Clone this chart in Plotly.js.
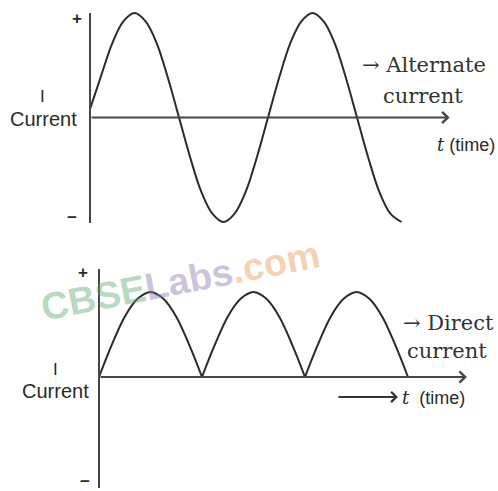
<!DOCTYPE html>
<html>
<head>
<meta charset="utf-8">
<script src="https://cdn.plot.ly/plotly-3.0.1.min.js"></script>
<style>html,body{margin:0;padding:0;background:#fff;}#chart{width:498px;height:491px;}</style>
</head>
<body>
<div id="chart"></div>
<script>
// ---- Data (time in periods, current as fraction of peak) ----
const acTime = [0, 0.0625, 0.125, 0.1875, 0.25, 0.3125, 0.375, 0.4375, 0.5,
  0.5625, 0.625, 0.6875, 0.75, 0.8125, 0.875, 0.9375, 1.0,
  1.0625, 1.125, 1.1875, 1.25, 1.3125, 1.375, 1.4375, 1.5,
  1.5625, 1.625, 1.6875, 1.75];
const acCurrent = [0.08, 0.4, 0.71, 0.92, 1, 0.92, 0.71, 0.38, 0,
  -0.38, -0.71, -0.92, -1, -0.92, -0.71, -0.38, 0,
  0.38, 0.71, 0.92, 1, 0.92, 0.71, 0.38, 0,
  -0.38, -0.71, -0.92, -1];

const dcTime = [0, 0.0625, 0.125, 0.1875, 0.25, 0.3125, 0.375, 0.4375, 0.5, null,
  0.5, 0.5625, 0.625, 0.6875, 0.75, 0.8125, 0.875, 0.9375, 1.0, null,
  1.0, 1.0625, 1.125, 1.1875, 1.25, 1.3125, 1.375, 1.4375, 1.5];
const dcCurrent = [0, 0.38, 0.71, 0.92, 1, 0.92, 0.71, 0.38, 0, null,
  0, 0.38, 0.71, 0.92, 1, 0.92, 0.71, 0.38, 0, null,
  0, 0.38, 0.71, 0.92, 1, 0.92, 0.71, 0.38, 0];

const labels = {
  plus: '+', minus: '\u2212', symbol: 'I', quantity: 'Current',
  ac1: '\u2192 Alternate', ac2: 'current',
  dc1: '\u2192 Direct', dc2: 'current',
  time: 'time', watermark: ['CBSE', 'Labs', '.com']
};

// ---- Styling ----
const W = 498, H = 491;
const curveColor = '#2b2b2b';
const axisColor = '#474747';
const sans = 'Liberation Sans, Arial, sans-serif';
const serif = 'DejaVu Serif, serif';
const px = x => x / W;
const py = y => 1 - y / H;

const traces = [
  { x: acTime, y: acCurrent, xaxis: 'x', yaxis: 'y', mode: 'lines',
    line: { color: curveColor, width: 2, shape: 'spline', smoothing: 1 }, hoverinfo: 'skip' },
  { x: dcTime, y: dcCurrent, xaxis: 'x2', yaxis: 'y2', mode: 'lines', connectgaps: false,
    line: { color: curveColor, width: 2, shape: 'spline', smoothing: 1 }, hoverinfo: 'skip' }
];

const hidden = { visible: false, fixedrange: true };

const txt = (x, y, text, size, extra) => Object.assign({
  xref: 'paper', yref: 'paper', x: px(x), y: py(y), text: text, showarrow: false,
  xanchor: 'center', yanchor: 'middle',
  font: { family: sans, size: size, color: '#2a2a2a' }
}, extra || {});

const boldSign = { font: { family: sans, size: 17, color: '#2a2a2a', weight: 'bold' } };

const annotations = [
  // axis arrows
  { xref: 'x', yref: 'y', axref: 'x', ayref: 'y', x: 2.02, y: 0, ax: 0, ay: 0, text: '',
    showarrow: true, arrowhead: 4, arrowsize: 1.1, arrowwidth: 2, arrowcolor: axisColor, standoff: 0 },
  { xref: 'x2', yref: 'y2', axref: 'x2', ayref: 'y2', x: 1.786, y: 0, ax: 0, ay: 0, text: '',
    showarrow: true, arrowhead: 4, arrowsize: 1.1, arrowwidth: 2, arrowcolor: axisColor, standoff: 0 },
  { xref: 'x2', yref: 'y2', axref: 'x2', ayref: 'y2', x: 1.451, y: -0.235, ax: 1.155, ay: -0.235, text: '',
    showarrow: true, arrowhead: 4, arrowsize: 1.0, arrowwidth: 2, arrowcolor: '#333', standoff: 0 },
  // top panel text
  txt(77, 18, labels.plus, 17, boldSign),
  txt(72, 217, labels.minus, 17, boldSign),
  txt(42, 96, labels.symbol, 17),
  txt(43, 119, labels.quantity, 20),
  txt(360, 65, labels.ac1, 21, { xanchor: 'left', font: { family: serif, size: 21, color: '#333' } }),
  txt(423, 96, labels.ac2, 21, { font: { family: serif, size: 21, color: '#333' } }),
  txt(497, 144, '<span style="font-family:DejaVu Serif"><i>t</i></span> (' + labels.time + ')', 18, { xanchor: 'right' }),
  // bottom panel text
  txt(83, 272, labels.plus, 17, boldSign),
  txt(85, 481, labels.minus, 17, boldSign),
  txt(55, 369, labels.symbol, 17),
  txt(55, 391, labels.quantity, 20),
  txt(401, 323, labels.dc1, 21, { xanchor: 'left', font: { family: serif, size: 21, color: '#333' } }),
  txt(447, 351, labels.dc2, 21, { font: { family: serif, size: 21, color: '#333' } }),
  txt(400, 397, '<span style="font-family:DejaVu Serif"><i>t</i></span>  (' + labels.time + ')', 18, { xanchor: 'left' }),
  // watermark
  txt(180, 281,
    '<span style="color:rgba(95,170,120,0.45)">' + labels.watermark[0] + '</span>' +
    '<span style="color:rgba(140,120,175,0.45)">' + labels.watermark[1] + '</span>' +
    '<span style="color:rgba(235,150,80,0.45)">' + labels.watermark[2] + '</span>',
    38, { textangle: -11, font: { family: sans, size: 38, color: '#999', weight: 'bold' } })
];

const shapes = [
  { type: 'line', xref: 'x', yref: 'y', x0: 0, x1: 0, y0: -1.01, y1: 1.0,
    line: { color: axisColor, width: 2 } },
  { type: 'line', xref: 'x2', yref: 'y2', x0: 0, x1: 0, y0: -1.306, y1: 1.27,
    line: { color: axisColor, width: 2 } }
];

const layout = {
  width: W, height: H,
  margin: { l: 0, r: 0, t: 0, b: 0 },
  paper_bgcolor: '#ffffff', plot_bgcolor: 'rgba(0,0,0,0)',
  showlegend: false,
  xaxis: Object.assign({ domain: [0, 1], range: [-90 / 178, 408 / 178], anchor: 'y' }, hidden),
  yaxis: Object.assign({ domain: [1 - 245 / H, 1], range: [-127.5 / 104.5, 117.5 / 104.5], anchor: 'x' }, hidden),
  xaxis2: Object.assign({ domain: [0, 1], range: [-99 / 206, 399 / 206], anchor: 'y2' }, hidden),
  yaxis2: Object.assign({ domain: [0, 1 - 245 / H], range: [-114 / 85, 132 / 85], anchor: 'x2' }, hidden),
  annotations: annotations,
  shapes: shapes
};

Plotly.newPlot('chart', traces, layout, { staticPlot: true, displayModeBar: false });
</script>
</body>
</html>
